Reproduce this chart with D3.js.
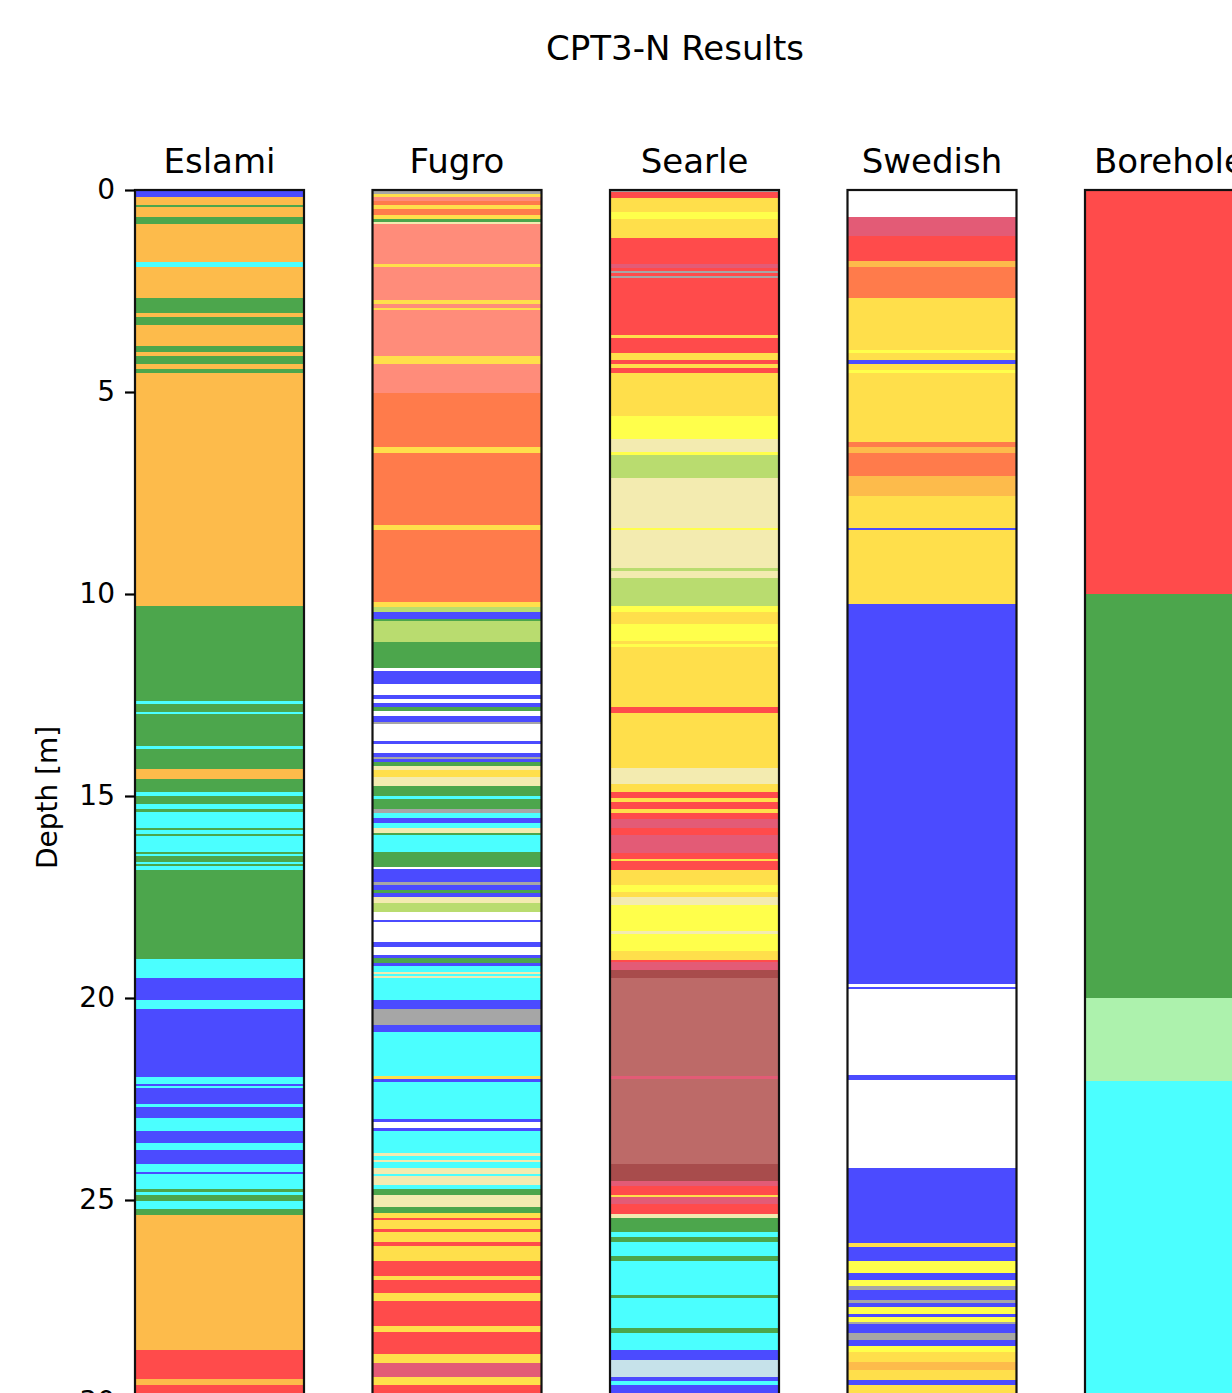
<!DOCTYPE html>
<html>
<head>
<meta charset="utf-8">
<script src="https://cdn.jsdelivr.net/npm/d3@7"></script>
<style>
  body { margin: 0; background: #fff; }
  svg { display: block; font-family: "DejaVu Sans", sans-serif; }
  .tick-label { font-size: 28px; fill: #000; }
  .col-title { font-size: 34px; fill: #000; }
</style>
</head>
<body>
<div id="chart"></div>
<script>
// Soil class logs, each layer = [top depth (m), class]; a layer ends where the next one starts
const maxDepth = 30.07;
const depthTicks = [0, 5, 10, 15, 20, 25, 30];
const columnNames = ['Eslami', 'Fugro', 'Searle', 'Swedish', 'Borehole'];

const eslami = [
  [0, 'blue'], [0.17, 'orange'], [0.37, 'green'], [0.42, 'orange'], [0.68, 'green'], [0.84, 'orange'],
  [1.77, 'cyan'], [1.90, 'orange'], [2.68, 'green'], [3.04, 'orange'], [3.14, 'green'], [3.34, 'orange'],
  [3.85, 'green'], [4.0, 'orange'], [4.11, 'green'], [4.31, 'orange'], [4.42, 'green'], [4.52, 'orange'],
  [10.30, 'green'], [12.65, 'cyan'], [12.72, 'green'], [12.91, 'cyan'], [12.97, 'green'], [13.76, 'cyan'],
  [13.84, 'green'], [14.34, 'orange'], [14.59, 'green'], [14.89, 'cyan'], [15.0, 'green'], [15.21, 'cyan'],
  [15.31, 'green'], [15.40, 'cyan'], [15.78, 'green'], [15.83, 'cyan'], [15.93, 'green'], [15.98, 'cyan'],
  [16.39, 'green'], [16.44, 'cyan'], [16.49, 'green'], [16.63, 'cyan'], [16.68, 'green'], [16.73, 'cyan'],
  [16.84, 'green'], [19.04, 'cyan'], [19.51, 'blue'], [20.05, 'cyan'], [20.28, 'blue'], [21.96, 'cyan'],
  [22.14, 'blue'], [22.18, 'cyan'], [22.22, 'blue'], [22.63, 'cyan'], [22.69, 'blue'], [22.98, 'cyan'],
  [23.29, 'blue'], [23.60, 'cyan'], [23.76, 'blue'], [24.11, 'cyan'], [24.31, 'blue'], [24.36, 'cyan'],
  [24.74, 'green'], [24.79, 'cyan'], [24.88, 'green'], [25.02, 'cyan'], [25.23, 'green'], [25.38, 'orange'],
  [28.71, 'red'], [29.43, 'orange'], [29.58, 'red']
];

const fugro = [
  [0, 'gray'], [0.10, 'gold'], [0.17, 'salmon'], [0.27, 'coral'], [0.37, 'gold'], [0.47, 'coral'],
  [0.61, 'gold'], [0.72, 'green'], [0.78, 'khaki'], [0.85, 'salmon'], [1.82, 'gold'], [1.91, 'salmon'],
  [2.72, 'gold'], [2.83, 'salmon'], [2.91, 'gold'], [2.98, 'salmon'], [4.11, 'gold'], [4.31, 'salmon'],
  [5.03, 'coral'], [6.35, 'gold'], [6.52, 'coral'], [8.29, 'gold'], [8.42, 'coral'], [10.19, 'gold'],
  [10.31, 'ygreen'], [10.44, 'blue'], [10.63, 'green'], [10.68, 'ygreen'], [11.18, 'green'], [11.84, 'white'],
  [11.90, 'blue'], [12.24, 'white'], [12.50, 'blue'], [12.60, 'white'], [12.70, 'blue'], [12.80, 'green'],
  [12.89, 'white'], [13.01, 'blue'], [13.16, 'gray'], [13.21, 'white'], [13.63, 'blue'], [13.71, 'white'],
  [13.93, 'blue'], [14.03, 'gray'], [14.09, 'blue'], [14.17, 'green'], [14.26, 'khaki'], [14.36, 'gold'],
  [14.54, 'khaki'], [14.75, 'green'], [15.00, 'cyan'], [15.07, 'green'], [15.31, 'gray'], [15.41, 'cyan'],
  [15.55, 'blue'], [15.66, 'cyan'], [15.78, 'khaki'], [15.91, 'green'], [15.97, 'cyan'], [16.39, 'green'],
  [16.75, 'white'], [16.81, 'blue'], [17.14, 'gray'], [17.21, 'blue'], [17.33, 'green'], [17.39, 'blue'],
  [17.51, 'khaki'], [17.66, 'ygreen'], [17.86, 'white'], [18.06, 'blue'], [18.13, 'white'], [18.62, 'blue'],
  [18.73, 'white'], [18.94, 'blue'], [19.0, 'green'], [19.14, 'blue'], [19.21, 'cyan'], [19.35, 'khaki'],
  [19.40, 'cyan'], [19.46, 'khaki'], [19.51, 'cyan'], [20.05, 'blue'], [20.28, 'gray'], [20.67, 'blue'],
  [20.83, 'cyan'], [21.93, 'gold'], [22.01, 'blue'], [22.09, 'cyan'], [22.99, 'blue'], [23.08, 'white'],
  [23.22, 'blue'], [23.29, 'cyan'], [23.84, 'khaki'], [23.90, 'cyan'], [24.0, 'khaki'], [24.06, 'cyan'],
  [24.20, 'khaki'], [24.35, 'cyan'], [24.41, 'khaki'], [24.62, 'cyan'], [24.73, 'green'], [24.88, 'khaki'],
  [25.18, 'green'], [25.32, 'gold'], [25.45, 'red'], [25.50, 'gold'], [25.73, 'red'], [25.79, 'gold'],
  [26.05, 'red'], [26.15, 'gold'], [26.52, 'red'], [26.88, 'gold'], [26.98, 'red'], [27.29, 'gold'],
  [27.49, 'red'], [28.11, 'gold'], [28.26, 'red'], [28.82, 'gold'], [29.03, 'pink'], [29.37, 'gold'],
  [29.58, 'red']
];

const searle = [
  [0, 'gray'], [0.06, 'red'], [0.21, 'gold'], [0.54, 'yellow'], [0.73, 'gold'], [1.20, 'red'],
  [1.82, 'pink'], [1.92, 'red'], [2.0, 'gray'], [2.06, 'red'], [2.12, 'gray'], [2.17, 'red'],
  [3.59, 'gold'], [3.66, 'red'], [4.04, 'gold'], [4.21, 'red'], [4.31, 'gold'], [4.41, 'red'],
  [4.52, 'gold'], [5.59, 'yellow'], [6.17, 'khaki'], [6.48, 'yellow'], [6.56, 'ygreen'], [7.12, 'khaki'],
  [8.36, 'yellow'], [8.42, 'khaki'], [9.36, 'ygreen'], [9.43, 'khaki'], [9.60, 'ygreen'], [10.30, 'yellow'],
  [10.44, 'gold'], [10.75, 'yellow'], [11.16, 'gold'], [11.24, 'yellow'], [11.30, 'gold'], [12.79, 'red'],
  [12.95, 'gold'], [14.31, 'khaki'], [14.70, 'gold'], [14.89, 'red'], [15.06, 'gold'], [15.16, 'red'],
  [15.31, 'gold'], [15.41, 'red'], [15.58, 'pink'], [15.78, 'red'], [15.97, 'pink'], [16.42, 'red'],
  [16.55, 'gold'], [16.60, 'red'], [16.83, 'gold'], [17.20, 'yellow'], [17.37, 'gold'], [17.51, 'khaki'],
  [17.70, 'yellow'], [18.33, 'khaki'], [18.42, 'yellow'], [18.84, 'gold'], [19.05, 'red'], [19.11, 'pink'],
  [19.31, 'darkbrown'], [19.50, 'brown'], [21.93, 'pink'], [22.0, 'brown'], [24.11, 'darkbrown'], [24.53, 'pink'],
  [24.65, 'red'], [24.87, 'gold'], [24.93, 'pink'], [25.10, 'red'], [25.35, 'khaki'], [25.45, 'green'],
  [25.80, 'cyan'], [25.91, 'green'], [26.05, 'cyan'], [26.38, 'green'], [26.51, 'cyan'], [27.35, 'green'],
  [27.43, 'cyan'], [28.16, 'green'], [28.30, 'cyan'], [28.71, 'blue'], [28.96, 'lightblue'], [29.37, 'blue'],
  [29.48, 'cyan'], [29.58, 'blue']
];

const swedish = [
  [0, 'white'], [0.68, 'pink'], [1.14, 'red'], [1.75, 'orange'], [1.91, 'coral'], [2.68, 'gold'],
  [3.96, 'yellow'], [4.03, 'gold'], [4.21, 'blue'], [4.31, 'gold'], [4.46, 'yellow'], [4.52, 'gold'],
  [6.23, 'coral'], [6.35, 'orange'], [6.52, 'coral'], [7.08, 'orange'], [7.57, 'gold'], [8.36, 'blue'],
  [8.42, 'gold'], [10.25, 'blue'], [19.66, 'white'], [19.72, 'blue'], [19.78, 'white'], [21.91, 'blue'],
  [22.02, 'white'], [24.20, 'blue'], [26.06, 'gold'], [26.16, 'blue'], [26.52, 'yellow'], [26.81, 'blue'],
  [26.98, 'yellow'], [27.13, 'gray'], [27.23, 'blue'], [27.48, 'gray'], [27.54, 'blue'], [27.64, 'yellow'],
  [27.81, 'blue'], [27.89, 'yellow'], [28.01, 'gray'], [28.07, 'blue'], [28.30, 'gray'], [28.46, 'blue'],
  [28.61, 'yellow'], [28.75, 'gold'], [29.02, 'orange'], [29.22, 'gold'], [29.46, 'blue'], [29.57, 'gold']
];

const borehole = [
  [0, 'red'], [10.0, 'green'], [20.0, 'lgreen'], [22.05, 'cyan']
];

const soilClasses = ['blue', 'orange', 'green', 'cyan', 'red', 'salmon', 'coral', 'gold', 'yellow',
  'ygreen', 'khaki', 'white', 'gray', 'brown', 'darkbrown', 'pink', 'lightblue', 'lgreen'];
const soilColors = ['#4b4bff', '#fdbb4b', '#4ca64c', '#4bffff', '#ff4b4b', '#ff8c7a', '#ff7b4b', '#ffdf4b', '#ffff4b',
  '#b9dc6f', '#f3ebb0', '#ffffff', '#a6a6a6', '#bd6a68', '#a84c4c', '#e35b76', '#c6e2ea', '#adf2ad'];

class DepthLogChart {

  constructor(_config, _data) {
    this.config = {
      parentElement: _config.parentElement,
      containerWidth: _config.containerWidth || 1232,
      containerHeight: _config.containerHeight || 1393,
      margin: _config.margin || {top: 190, left: 135, right: -22},
      pxPerMetre: 40.4,
      tickLength: 10
    }
    this.data = _data;
    this.initVis();
  }

  initVis() {
    let vis = this;

    vis.svg = d3.select(vis.config.parentElement).append('svg')
        .attr('width', vis.config.containerWidth)
        .attr('height', vis.config.containerHeight);

    vis.yScale = d3.scaleLinear()
        .domain([0, maxDepth])
        .range([vis.config.margin.top, vis.config.margin.top + maxDepth * vis.config.pxPerMetre]);

    vis.xScale = d3.scaleBand()
        .domain(columnNames)
        .range([vis.config.margin.left, vis.config.containerWidth - vis.config.margin.right])
        .paddingInner(0.2884)
        .paddingOuter(0);

    vis.colorScale = d3.scaleOrdinal().domain(soilClasses).range(soilColors);

    // Figure title
    vis.svg.append('text')
        .attr('x', 675)
        .attr('y', 60)
        .attr('text-anchor', 'middle')
        .attr('class', 'col-title')
        .text('CPT3-N Results');

    vis.renderVis();
  }

  renderVis() {
    let vis = this;
    const bw = vis.xScale.bandwidth();
    const y0 = vis.yScale(0), y1 = vis.yScale(maxDepth);

    const cols = vis.svg.selectAll('.log-col')
        .data(vis.data)
      .join('g')
        .attr('class', 'log-col')
        .attr('transform', d => `translate(${vis.xScale(d.name)},0)`);

    // Layers: each runs from its top to the next layer's top
    cols.selectAll('rect.layer')
        .data(d => d.layers.map((l, i) => ({
          top: l[0],
          bottom: i < d.layers.length - 1 ? d.layers[i + 1][0] : maxDepth,
          soil: l[1]
        })))
      .join('rect')
        .attr('class', 'layer')
        .attr('x', 0)
        .attr('width', bw)
        .attr('y', d => vis.yScale(d.top))
        .attr('height', d => vis.yScale(d.bottom) - vis.yScale(d.top))
        .attr('fill', d => vis.colorScale(d.soil))
        .attr('shape-rendering', 'crispEdges');

    // Frame
    cols.append('rect')
        .attr('x', 0)
        .attr('y', y0)
        .attr('width', bw)
        .attr('height', y1 - y0)
        .attr('fill', 'none')
        .attr('stroke', '#111')
        .attr('stroke-width', 2.2);

    cols.append('text')
        .attr('class', 'col-title')
        .attr('x', bw / 2)
        .attr('y', y0 - 17)
        .attr('text-anchor', 'middle')
        .text(d => d.name);

    // Depth axis on the first column only
    const axis = vis.svg.append('g')
        .attr('transform', `translate(${vis.config.margin.left},0)`)
        .call(d3.axisLeft(vis.yScale)
          .tickValues(depthTicks)
          .tickFormat(d3.format('d'))
          .tickSize(vis.config.tickLength)
          .tickPadding(10));
    axis.select('.domain').remove();
    axis.selectAll('.tick line').attr('stroke', '#000').attr('stroke-width', 2.2);
    axis.selectAll('.tick text')
        .attr('class', 'tick-label')
        .attr('fill', '#000')
        .style('font-size', '28px')
        .style('font-family', '"DejaVu Sans", sans-serif');

    vis.svg.append('text')
        .attr('class', 'tick-label')
        .attr('transform', `translate(57,${(y0 + y1) / 2}) rotate(-90)`)
        .attr('text-anchor', 'middle')
        .text('Depth [m]');
  }
}

const logs = [
  {name: 'Eslami', layers: eslami},
  {name: 'Fugro', layers: fugro},
  {name: 'Searle', layers: searle},
  {name: 'Swedish', layers: swedish},
  {name: 'Borehole', layers: borehole}
];

new DepthLogChart({parentElement: '#chart'}, logs);
</script>
</body>
</html>
